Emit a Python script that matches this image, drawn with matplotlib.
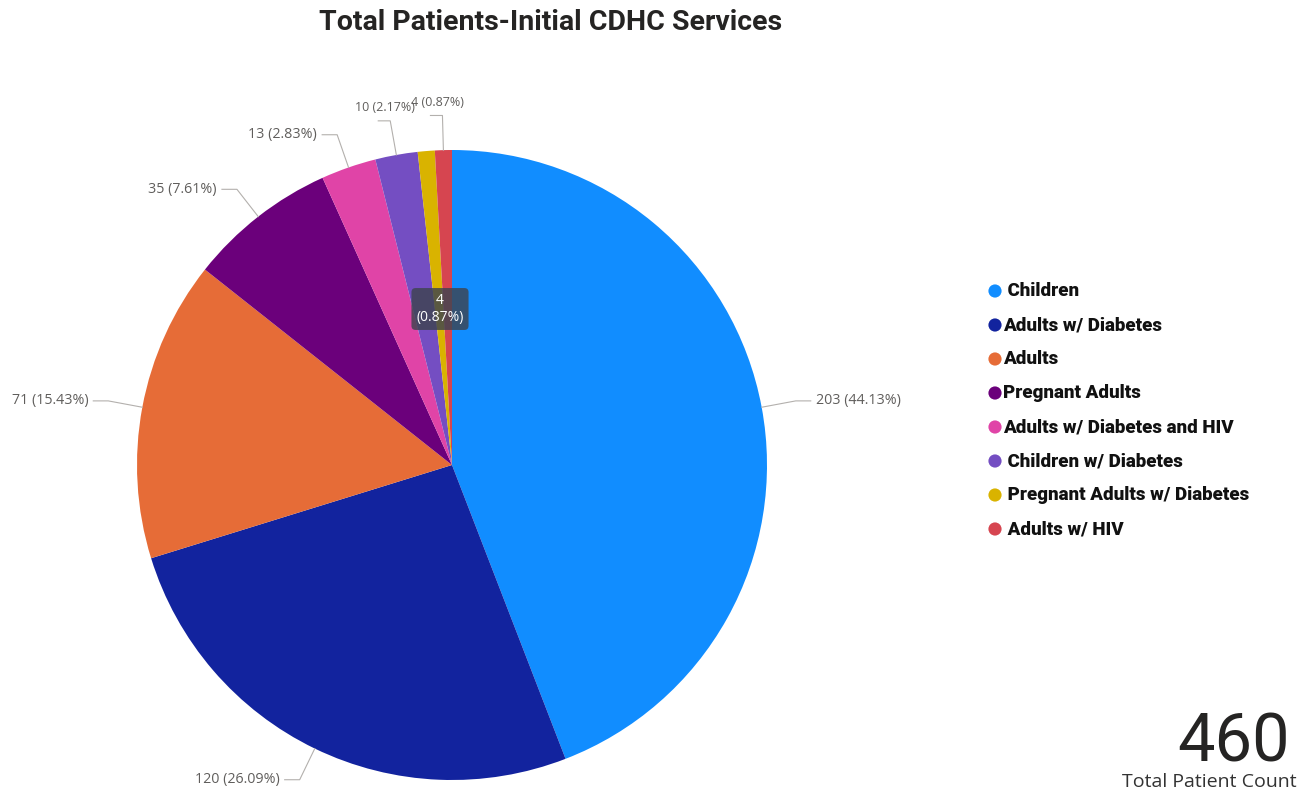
import matplotlib.pyplot as plt
import numpy as np

categories = ["Children", "Adults w/ Diabetes", "Adults", "Pregnant Adults",
              "Adults w/ Diabetes and HIV", "Children w/ Diabetes",
              "Pregnant Adults w/ Diabetes", "Adults w/ HIV"]
patients = [203, 120, 71, 35, 13, 10, 4, 4]
colors = ["#118DFF", "#12239E", "#E66C37", "#6B007B",
          "#E044A7", "#744EC2", "#D9B300", "#D64550"]
# legend text indents as they appear in the report
legend_labels = [" Children", "Adults w/ Diabetes", "Adults", "Pregnant Adults",
                 "Adults w/ Diabetes and HIV", " Children w/ Diabetes",
                 " Pregnant Adults w/ Diabetes", " Adults w/ HIV"]
# how each data label is placed: side, above, or hidden
label_mode = ["side", "side", "side", "side", "side", "above", None, "above"]
tooltip_slice = 6

W, H = 1311, 790
cx, cy, R = 452, 465, 315


def py(y):
    # pixel row -> axes y
    return H - y


fig = plt.figure(figsize=(W / 100, H / 100), dpi=100)
ax = fig.add_axes([0, 0, 1, 1])

total = sum(patients)
wedges, _ = ax.pie(patients, colors=colors, startangle=90, counterclock=False,
                   center=(cx, py(cy)), radius=R, frame=True,
                   wedgeprops=dict(linewidth=0))
ax.set_xlim(0, W)
ax.set_ylim(0, H)
ax.set_aspect("equal")
ax.axis("off")

lab_font = dict(family=["Open Sans", "DejaVu Sans"], fontsize=10.3, color="#605E5C")
line_kw = dict(color="#B3B0AD", lw=0.8)

for w, v, mode in zip(wedges, patients, label_mode):
    if mode is None:
        continue
    ang = np.deg2rad((w.theta1 + w.theta2) / 2)
    ex, ey = cx + R * np.cos(ang), cy - R * np.sin(ang)
    bx, by = cx + 1.11 * R * np.cos(ang), cy - 1.11 * R * np.sin(ang)
    txt = f"{v} ({v / total * 100:.2f}%)"
    if mode == "side":
        s = 1 if np.cos(ang) >= 0 else -1
        hx = bx + s * 15
        ax.plot([ex, bx, hx], [py(ey), py(by), py(by)], **line_kw)
        ax.text(hx + s * 5, py(by), txt, ha="left" if s > 0 else "right",
                va="center", **lab_font)
    else:
        hx = bx - 12
        ax.plot([ex, bx, hx], [py(ey), py(by), py(by)], **line_kw)
        ax.text(bx - 5, py(by - 13), txt, ha="center", va="center",
                **dict(lab_font, fontsize=9))

# hover tooltip over the smallest slices
v = patients[tooltip_slice]
ax.text(440, py(309), f"{v}\n({v / total * 100:.2f}%)", ha="center", va="center",
        color="white", fontsize=10, family=["Open Sans", "DejaVu Sans"],
        linespacing=1.2,
        bbox=dict(boxstyle="round,pad=0.35,rounding_size=0.3", fc="#3E4450",
                  ec="none", alpha=0.82))

# legend
for i, (lab, col) in enumerate(zip(legend_labels, colors)):
    y = 291 + i * 34
    ax.scatter([995], [py(y)], s=90, color=col, edgecolors="none")
    ax.text(1003, py(y), lab, ha="left", va="center", fontsize=13.5,
            fontweight="black", color="#111111", family=["Roboto", "DejaVu Sans"])

ax.text(551, py(22), "Total Patients-Initial CDHC Services", ha="center",
        va="center", fontsize=20.5, fontweight="bold", color="#252423",
        family=["Roboto", "DejaVu Sans"])

ax.text(1290, py(761), f"{total}", ha="right", va="baseline", fontsize=48,
        fontweight="normal", color="#252423", family=["Roboto", "DejaVu Sans"])
ax.text(1297, py(782), "Total Patient Count", ha="right", va="center",
        fontsize=14, color="#333333", family=["Open Sans", "DejaVu Sans"])

fig.savefig("out.png", dpi=100)
